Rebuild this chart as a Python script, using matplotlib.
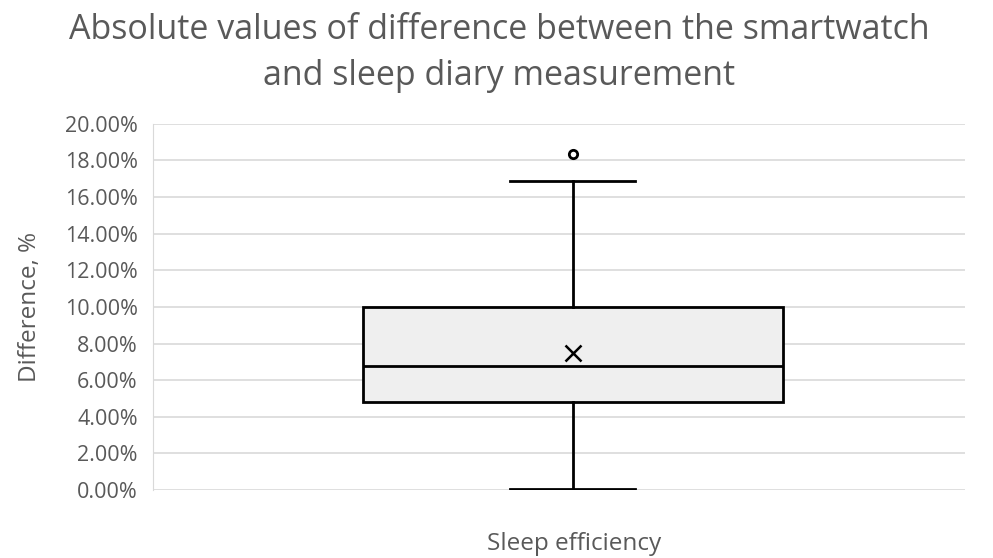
import matplotlib.pyplot as plt
from matplotlib.ticker import PercentFormatter

# box plot statistics (fraction values)
category = 'Sleep efficiency'
q1 = 0.0481
median = 0.0678
q3 = 0.0999
mean = 0.0749
whisker_low = 0.0005
whisker_high = 0.1689
outliers = [0.1836]

stats = [dict(label=category, q1=q1, med=median, q3=q3, mean=mean,
              whislo=whisker_low, whishi=whisker_high, fliers=outliers)]

fig = plt.figure(figsize=(9.93, 5.58), dpi=100)
ax = fig.add_axes([0.154, 0.122, 0.818, 0.656])

gray = '#595959'
ax.bxp(stats, positions=[1], widths=0.517, capwidths=0.154,
       showmeans=True, patch_artist=True,
       boxprops=dict(facecolor='#efefef', edgecolor='black', linewidth=2),
       medianprops=dict(color='black', linewidth=2),
       whiskerprops=dict(color='black', linewidth=2),
       capprops=dict(color='black', linewidth=2),
       meanprops=dict(marker='x', markeredgecolor='black', markersize=11, markeredgewidth=1.8),
       flierprops=dict(marker='o', markerfacecolor='white', markeredgecolor='black',
                       markersize=6, markeredgewidth=2))

ax.set_xlim(1 - 0.517, 1 + 0.483)
ax.set_ylim(0, 0.20)
ax.set_yticks([i * 0.02 for i in range(11)])
ax.yaxis.set_major_formatter(PercentFormatter(1.0, decimals=2))
ax.set_xticks([])
ax.grid(axis='y', color='#d9d9d9', linewidth=1.2)
ax.set_axisbelow(True)
for s in ['top', 'right', 'bottom']:
    ax.spines[s].set_visible(False)
ax.spines['left'].set_color('#d9d9d9')
ax.tick_params(axis='y', length=0, labelsize=15.5, labelcolor=gray, pad=11)

ax.set_ylabel('Difference, %', fontsize=17.5, color=gray, labelpad=16)
fig.text(0.578, 0.004, category, ha='center', va='bottom', fontsize=17.5, color=gray)
fig.suptitle('Absolute values of difference between the smartwatch\nand sleep diary measurement',
             x=0.503, y=0.977, fontsize=24.5, color=gray, linespacing=1.45)

for t in fig.findobj(plt.Text):
    t.set_fontfamily('Open Sans')

fig.savefig('out.png', dpi=100)
